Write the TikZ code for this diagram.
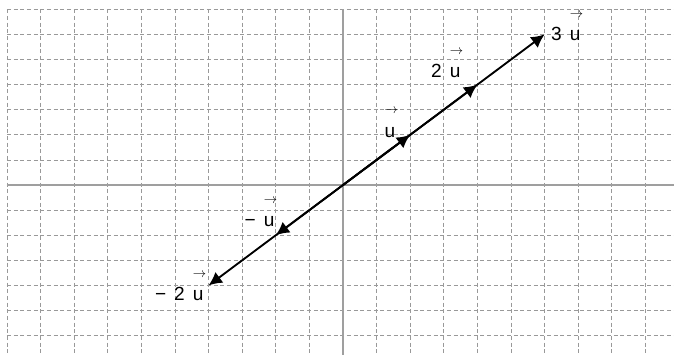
\documentclass[tikz,border=0pt]{standalone}
\usepackage{fontspec}
\setmainfont{Liberation Sans}
\usepackage{tikz}
\usetikzlibrary{arrows.meta}

\newcommand{\vecu}{\rlap{\raisebox{17.5pt}{\fontsize{10}{10}\selectfont$\rightarrow$}}u}

\begin{document}
\begin{tikzpicture}[
      x=25.2pt, y=18.825pt,
      gridline/.style={gray!80, line width=0.6pt, dash pattern=on 3pt off 2pt},
      axis/.style={gray!75, line width=0.9pt},
      vec/.style={-{Latex[length=10pt, width=10pt]}, line width=1.4pt},
      lbl/.style={anchor=base east, inner sep=0pt, font={\fontsize{14.3}{17}\selectfont\spaceskip=0.42em\relax}}
    ]
      \useasboundingbox (-10.208,-6.773) rectangle (9.851,7.371);

      \foreach \i in {-10,...,9}
        \draw[gridline] (\i,7) -- (\i,-6.773);
      \foreach \j in {-6,...,7}
        \draw[gridline] (-10,\j) -- (9.851,\j);

      \draw[axis] (-10,0) -- (9.851,0);
      \draw[axis] (0,7) -- (0,-6.773);

      \coordinate (O) at (0,0);
      \coordinate (u1) at (2,2);
      \coordinate (u2) at (4,4);
      \coordinate (u3) at (6,6);
      \coordinate (um1) at (-2,-2);
      \coordinate (um2) at (-4,-4);

      \draw[vec] (O) -- (u3);
      \draw[vec] (O) -- (u2);
      \draw[vec] (O) -- (u1);
      \draw[vec] (O) -- (um2);
      \draw[vec] (O) -- (um1);

      \node[lbl] (lu1) at (1.560,1.912) {\vecu};
      \node[lbl] (lu2) at (3.503,4.275) {2 \vecu};
      \node[lbl] (lu3) at (7.074,5.749) {3 \vecu};
      \node[lbl] (lum1) at (-2.033,-1.661) {− \vecu};
      \node[lbl] (lum2) at (-4.146,-4.610) {− 2 \vecu};
    \end{tikzpicture}
\end{document}
